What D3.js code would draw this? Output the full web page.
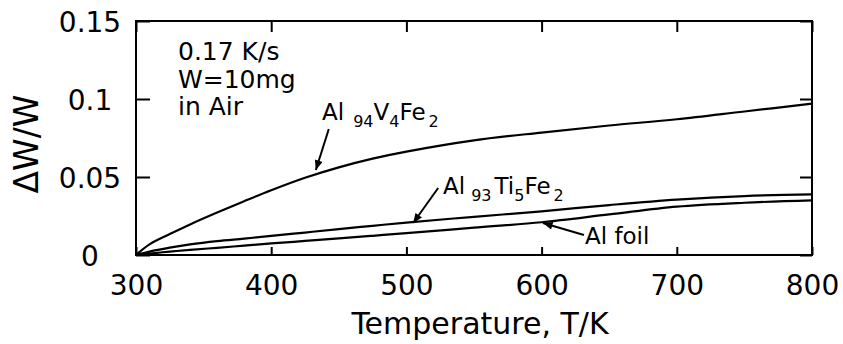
<!DOCTYPE html>
<html>
<head>
<meta charset="utf-8">
<script src="https://cdn.jsdelivr.net/npm/d3@7/dist/d3.min.js"></script>
<style>
  html, body { margin: 0; padding: 0; background: #fff; }
  svg { display: block; font-family: "DejaVu Sans", sans-serif; }
</style>
</head>
<body>
<svg id="chart" width="843" height="344"></svg>
<script>
// ---- data ----
const temps = [300, 310, 325, 340, 360, 380, 400, 425, 450, 475, 500, 550, 600, 650, 700, 750, 800];
const alVFe = [0, 0.0068, 0.0134, 0.0196, 0.0272, 0.0345, 0.0415, 0.0495, 0.0562, 0.0618, 0.0663, 0.0735, 0.0785, 0.083, 0.087, 0.092, 0.097];
const alTiFe = [0, 0.0022, 0.0047, 0.0068, 0.0089, 0.0105, 0.0122, 0.0144, 0.0166, 0.0187, 0.0208, 0.0245, 0.028, 0.032, 0.0355, 0.0378, 0.0388];
const alFoil = [0, 0.0009, 0.0022, 0.0033, 0.0046, 0.006, 0.0074, 0.009, 0.0106, 0.0123, 0.014, 0.0175, 0.021, 0.026, 0.031, 0.0335, 0.035];
const xTicks = [300, 400, 500, 600, 700, 800];
const yTicks = [0, 0.05, 0.1, 0.15];
const yTickLabels = ["0", "0.05", "0.1", "0.15"];
const conditions = ["0.17 K/s", "W=10mg", "in Air"];

// ---- layout ----
const svg = d3.select("#chart");
const L = 136, R = 812, T = 21, B = 255;
const x = d3.scaleLinear().domain([300, 800]).range([L, R]);
const y = d3.scaleLinear().domain([0, 0.15]).range([B, T]);

// defs: arrowhead
svg.append("defs").append("marker")
  .attr("id", "arr").attr("viewBox", "0 0 12 10")
  .attr("refX", 12).attr("refY", 5)
  .attr("markerUnits", "userSpaceOnUse")
  .attr("markerWidth", 14).attr("markerHeight", 8)
  .attr("orient", "auto")
  .append("path").attr("d", "M0,0 L12,5 L0,10 Z").attr("fill", "#000");

// axes
const xAxis = svg.append("g").attr("transform", `translate(0,${B})`)
  .call(d3.axisBottom(x).tickValues(xTicks).tickSize(-8).tickPadding(20).tickFormat(d3.format("d")));
const xTop = svg.append("g").attr("transform", `translate(0,${T})`)
  .call(d3.axisTop(x).tickValues(xTicks).tickSize(-11).tickFormat(""));
const yAxis = svg.append("g").attr("transform", `translate(${L},0)`)
  .call(d3.axisLeft(y).tickValues(yTicks).tickSize(-14).tickFormat((d, i) => yTickLabels[i]));
const yRight = svg.append("g").attr("transform", `translate(${R},0)`)
  .call(d3.axisRight(y).tickValues(yTicks).tickSize(-12).tickFormat(""));

[xAxis, xTop, yAxis, yRight].forEach(g => {
  g.select(".domain").remove();
  g.selectAll(".tick line").attr("stroke", "#000").attr("stroke-width", 2);
});
xAxis.selectAll("text").attr("font-size", 28).attr("font-family", "DejaVu Sans").attr("fill", "#000");
yAxis.selectAll("text")
  .attr("font-size", 28).attr("font-family", "DejaVu Sans").attr("fill", "#000")
  .attr("text-anchor", "middle").attr("x", -46).attr("dy", "0.36em");

// frame
svg.append("rect").attr("x", L).attr("y", T).attr("width", R - L).attr("height", B - T)
  .attr("fill", "none").attr("stroke", "#000").attr("stroke-width", 2);

// curves
const line = d3.line().x((d, i) => x(temps[i])).y(d => y(d)).curve(d3.curveCatmullRom.alpha(0.5));
[alVFe, alTiFe, alFoil].forEach(s => {
  svg.append("path").datum(s).attr("d", line)
    .attr("fill", "none").attr("stroke", "#000").attr("stroke-width", 2.2)
    .attr("stroke-linejoin", "round");
});

// axis titles
svg.append("text").attr("x", 480).attr("y", 334).attr("text-anchor", "middle")
  .attr("font-size", 30).attr("fill", "#000").text("Temperature, T/K");
svg.append("text").attr("transform", "translate(38,144) rotate(-90)").attr("text-anchor", "middle")
  .attr("font-size", 33).attr("fill", "#000").text("\u0394W/W");

// conditions text
svg.append("g").selectAll("text").data(conditions).join("text")
  .attr("x", 178).attr("y", (d, i) => 60 + i * 27.5)
  .attr("font-size", 25).attr("fill", "#000").text(d => d);

// labels with subscripts
function label(parts, px, py) {
  const t = svg.append("text").attr("x", px).attr("y", py).attr("fill", "#000");
  let shifted = false;
  parts.forEach(p => {
    const ts = t.append("tspan").text(p.t).attr("font-size", p.sub ? 16 : 23);
    let dy = 0;
    if (p.sub && !shifted) { dy = 7; shifted = true; }
    if (!p.sub && shifted) { dy = -7; shifted = false; }
    ts.attr("dy", dy).attr("dx", p.dx || 0);
  });
}
label([{t: "Al"}, {t: "94", sub: true, dx: 9}, {t: "V"}, {t: "4", sub: true}, {t: "Fe"}, {t: "2", sub: true, dx: 3}], 322, 120);
label([{t: "Al"}, {t: "93", sub: true, dx: 6}, {t: "Ti", dx: 3}, {t: "5", sub: true}, {t: "Fe"}, {t: "2", sub: true, dx: 3}], 443, 194);
label([{t: "Al foil"}], 585, 244);

// arrows: tip at data coords, tail offset in px
const arrows = [
  {tip: [433, 0.0545], dx: 13, dy: -41},
  {tip: [505, 0.0205], dx: 25, dy: -35},
  {tip: [601, 0.0205], dx: 41, dy: 12}
];
arrows.forEach(a => {
  const tx = x(a.tip[0]), ty = y(a.tip[1]);
  svg.append("line").attr("x1", tx + a.dx).attr("y1", ty + a.dy).attr("x2", tx).attr("y2", ty)
    .attr("stroke", "#000").attr("stroke-width", 2).attr("marker-end", "url(#arr)");
});
</script>
</body>
</html>
